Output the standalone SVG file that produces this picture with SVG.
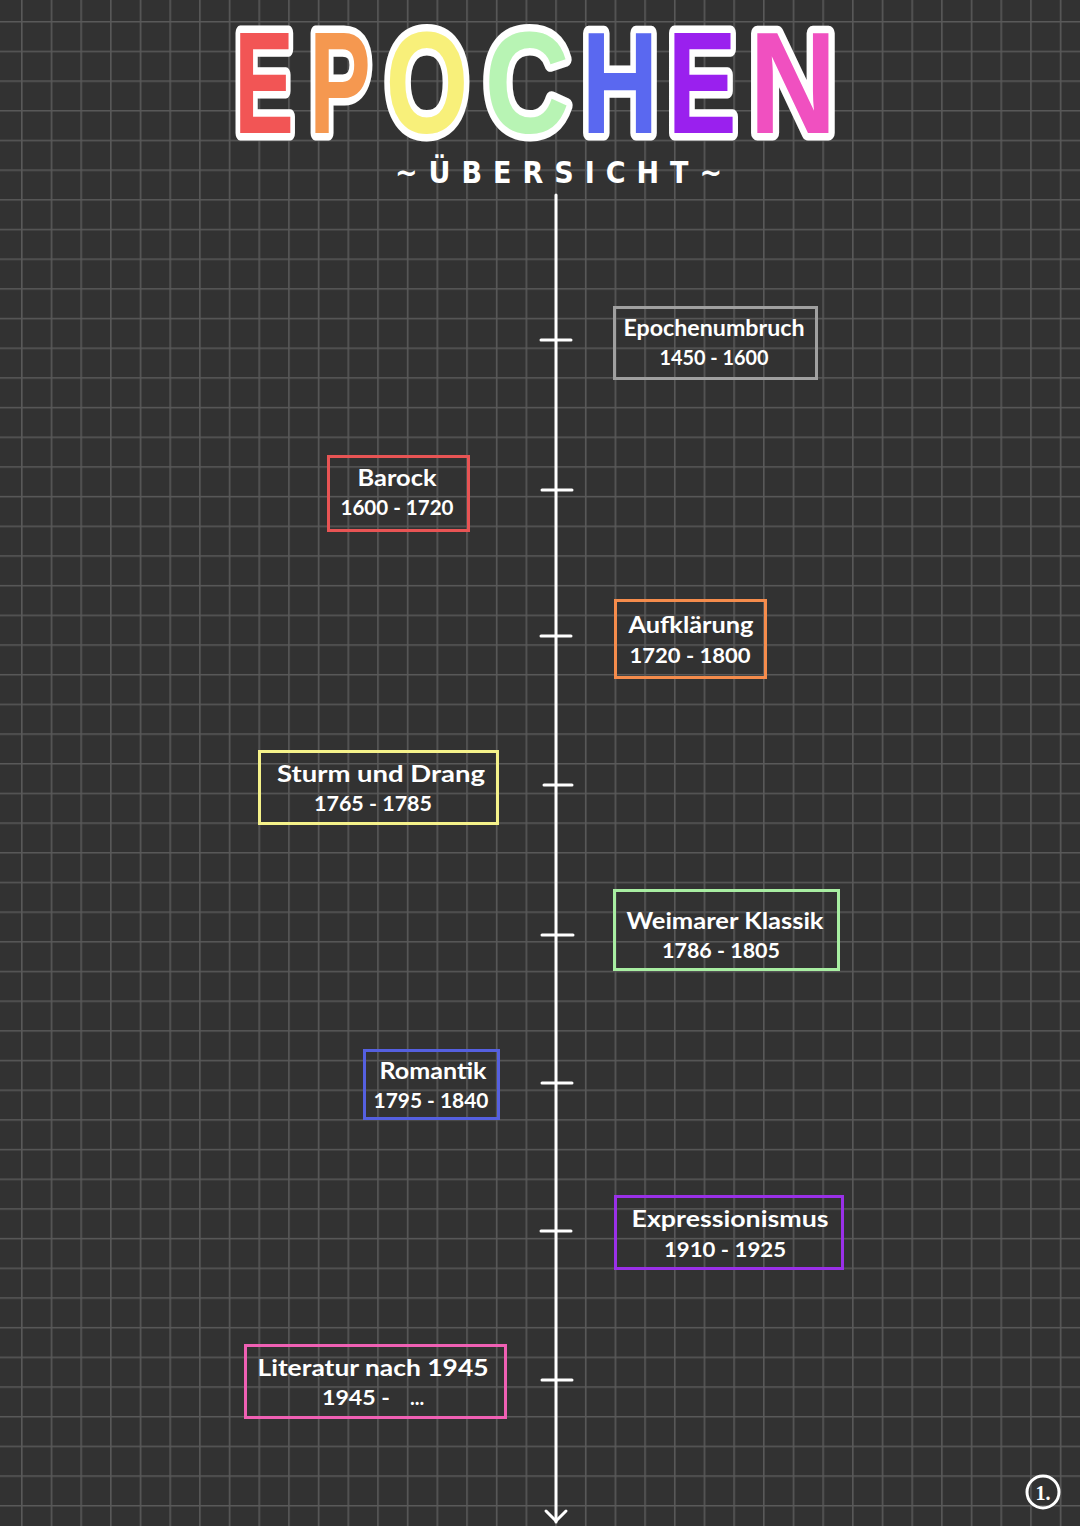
<svg xmlns="http://www.w3.org/2000/svg" width="1080" height="1526" viewBox="0 0 1080 1526">
<defs>
<pattern id="grid" patternUnits="userSpaceOnUse" x="21" y="21" width="29.68" height="29.68">
<path d="M0 0.8 H29.68 M0.8 0 V29.68" stroke="#595959" stroke-width="1.6" fill="none"/>
</pattern>
</defs>
<style>
.t{font-family:"Liberation Sans",Arial,sans-serif;font-weight:bold;font-size:144px;stroke:#ffffff;stroke-width:15px;stroke-linejoin:round;paint-order:stroke fill;text-anchor:middle;}
.lbl{font-family:Lato,"Noto Sans",sans-serif;font-weight:bold;fill:#ffffff;text-anchor:middle;}
.l1{font-size:23px;}
.l2{font-size:20px;}
.box{fill:none;stroke-width:3;}
.axis{stroke:#ffffff;stroke-width:3;fill:none;stroke-linecap:round;stroke-linejoin:round;}
</style>
<rect width="1080" height="1526" fill="#323232"/>
<rect width="1080" height="1526" fill="url(#grid)"/>

<g id="title">
<text class="t" fill="#f25555" transform="translate(264,133) scale(0.62,1)">E</text>
<text class="t" fill="#f59850" transform="translate(340,133) scale(0.64,1)">P</text>
<text class="t" fill="#f8f07a" transform="translate(427,133) scale(0.74,1)">O</text>
<text class="t" fill="#b8f4b4" transform="translate(527,133) scale(0.82,1)">C</text>
<text class="t" fill="#5a68f0" transform="translate(620,133) scale(0.74,1)">H</text>
<text class="t" fill="#9a20ee" transform="translate(702,133) scale(0.72,1)">E</text>
<text class="t" fill="#f050c0" transform="translate(793,133) scale(0.84,1)">N</text>
</g>

<g id="subtitle">
<text x="395" y="183" textLength="327" lengthAdjust="spacing" font-family="'DejaVu Sans Condensed','DejaVu Sans',sans-serif" font-weight="bold" font-size="30" fill="#ffffff">~ÜBERSICHT~</text>
</g>

<g id="connectors">
<path class="axis" d="M556 195 V1522"/>
<path class="axis" d="M546 1511 L556 1521 L566 1511"/>
<path class="axis" d="M541 340 H571 M542 490 H572 M541 636 H571 M544 785 H572 M542 935 H573 M542 1083 H572 M541 1231 H571 M542 1380 H572"/>
</g>

<g id="n1">
<rect class="box" x="614.5" y="307.5" width="202" height="71" stroke="#a0a0a0"/>
<text class="lbl l1" x="714" y="336" textLength="181" lengthAdjust="spacingAndGlyphs">Epochenumbruch</text>
<text class="lbl l2" x="714" y="365" textLength="109" lengthAdjust="spacingAndGlyphs">1450 - 1600</text>
</g>
<g id="n2">
<rect class="box" x="328.5" y="456.5" width="140" height="74" stroke="#e85454"/>
<text class="lbl l1" x="397" y="486" textLength="79" lengthAdjust="spacingAndGlyphs">Barock</text>
<text class="lbl l2" x="397" y="515" textLength="113" lengthAdjust="spacingAndGlyphs">1600 - 1720</text>
</g>
<g id="n3">
<rect class="box" x="615.5" y="600.5" width="150" height="77" stroke="#f58c4c"/>
<text class="lbl l1" x="691" y="633" textLength="125" lengthAdjust="spacingAndGlyphs">Aufklärung</text>
<text class="lbl l2" x="690" y="663" textLength="121" lengthAdjust="spacingAndGlyphs">1720 - 1800</text>
</g>
<g id="n4">
<rect class="box" x="259.5" y="751.5" width="238" height="72" stroke="#f5f28a"/>
<text class="lbl l1" x="381" y="782" textLength="208" lengthAdjust="spacingAndGlyphs">Sturm und Drang</text>
<text class="lbl l2" x="373" y="811" textLength="118" lengthAdjust="spacingAndGlyphs">1765 - 1785</text>
</g>
<g id="n5">
<rect class="box" x="614.5" y="890.5" width="224" height="79" stroke="#a8eea2"/>
<text class="lbl l1" x="725" y="929" textLength="197" lengthAdjust="spacingAndGlyphs">Weimarer Klassik</text>
<text class="lbl l2" x="721" y="958" textLength="118" lengthAdjust="spacingAndGlyphs">1786 - 1805</text>
</g>
<g id="n6">
<rect class="box" x="364.5" y="1050.5" width="134" height="68" stroke="#5560e0"/>
<text class="lbl l1" x="433" y="1079" textLength="107" lengthAdjust="spacingAndGlyphs">Romantik</text>
<text class="lbl l2" x="431" y="1108" textLength="115" lengthAdjust="spacingAndGlyphs">1795 - 1840</text>
</g>
<g id="n7">
<rect class="box" x="615.5" y="1196.5" width="227" height="72" stroke="#9a30e8"/>
<text class="lbl l1" x="730" y="1227" textLength="197" lengthAdjust="spacingAndGlyphs">Expressionismus</text>
<text class="lbl l2" x="725" y="1257" textLength="122" lengthAdjust="spacingAndGlyphs">1910 - 1925</text>
</g>
<g id="n8">
<rect class="box" x="245.5" y="1345.5" width="260" height="72" stroke="#f060b4"/>
<text class="lbl l1" x="373" y="1376" textLength="231" lengthAdjust="spacingAndGlyphs">Literatur nach 1945</text>
<text class="lbl l2" x="356" y="1405" textLength="68" lengthAdjust="spacingAndGlyphs">1945 -</text>
<text class="lbl l2" x="417" y="1405">...</text>
</g>

<g id="page">
<circle cx="1043" cy="1492" r="16" fill="none" stroke="#ffffff" stroke-width="3"/>
<text x="1043" y="1500" font-family="'Liberation Serif',serif" font-weight="bold" font-size="20" fill="#ffffff" text-anchor="middle">1.</text>
</g>
</svg>
